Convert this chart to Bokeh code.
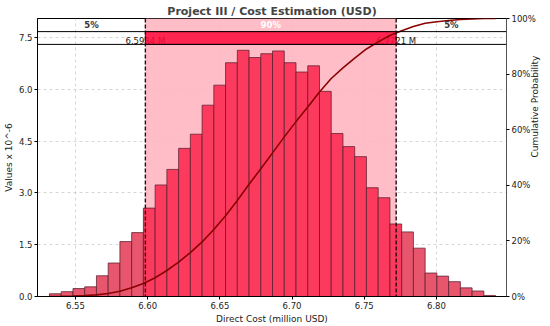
from bokeh.plotting import figure
from bokeh.models import Range1d, LinearAxis, FixedTicker, NumeralTickFormatter, Span, ColumnDataSource
from bokeh.core.properties import value
from bokeh.embed import file_html
from bokeh.resources import INLINE
import numpy as np
import math

# ---- data ----
title = "Project III / Cost Estimation (USD)"
x_label = "Direct Cost (million USD)"
y_label = "Values x 10^-6"
y2_label = "Cumulative Probability"

bin_start = 6.532
bin_width = 0.00813
densities = [0.08, 0.14, 0.23, 0.28, 0.60, 0.97, 1.59, 1.85, 2.56, 3.23,
             3.68, 4.29, 4.70, 5.54, 6.12, 6.77, 7.13, 6.92, 7.03, 7.11,
             6.77, 6.50, 6.68, 5.94, 4.72, 4.34, 4.05, 3.15, 2.86, 2.10,
             1.87, 1.40, 0.68, 0.59, 0.43, 0.25, 0.16, 0.03]
p5 = 6.5984
p95 = 6.7721
p5_label = "6.5984 M"
p95_label = "6.7721 M"
region_labels = ["5%", "90%", "5%"]
x_ticks = [6.55, 6.60, 6.65, 6.70, 6.75, 6.80]
y_ticks = [0.0, 1.5, 3.0, 4.5, 6.0, 7.5]
y2_ticks = [0.0, 0.2, 0.4, 0.6, 0.8, 1.0]

x_min, x_max = 6.5237, 6.8485
y_max = 8.05
band_lo, band_hi = 7.30, 7.67

# ---- derived ----
h = np.array(densities)
lefts = bin_start + bin_width * np.arange(len(h))
rights = lefts + bin_width
centers = (lefts + rights) / 2
inside = (centers >= p5) & (centers <= p95)
colors = ["#fc3a5e" if i else "#e8566e" for i in inside]
edges = np.concatenate([[bin_start], rights])
cdf = np.concatenate([[0.0], np.cumsum(h)])
cdf = cdf / cdf[-1]

FONT = "DejaVu Sans"

p = figure(width=550, height=326, x_range=Range1d(x_min, x_max), y_range=Range1d(0, y_max),
           output_backend="svg", toolbar_location=None, title=title,
           min_border_left=37, min_border_right=44, min_border_top=18, min_border_bottom=29)
p.title.text_font = FONT
p.title.text_font_size = "11px"
p.title.text_font_style = "bold"
p.title.align = "center"
p.title.standoff = 2
p.title.offset = 0

p.outline_line_color = "black"
p.outline_line_width = 1
p.background_fill_color = "white"

p.extra_y_ranges = {"cdf": Range1d(0, 1)}


def style_axis(ax):
    ax.axis_label_text_font = FONT
    ax.axis_label_text_font_size = "9px"
    ax.axis_label_text_font_style = "normal"
    ax.axis_label_text_color = "#222222"
    ax.axis_label_text_line_height = 1.0
    ax.major_label_text_font = FONT
    ax.major_label_text_font_size = "8.5px"
    ax.major_label_text_color = "#222222"
    ax.major_label_text_line_height = 1.0
    ax.minor_tick_line_color = None
    ax.major_tick_in = 0
    ax.major_tick_out = 3
    ax.axis_label_standoff = 2
    ax.major_label_standoff = 2


style_axis(p.xaxis[0])
style_axis(p.yaxis[0])
p.xaxis.ticker = FixedTicker(ticks=x_ticks)
p.xaxis.formatter = NumeralTickFormatter(format="0.00")
p.xaxis.axis_label = x_label
p.yaxis.ticker = FixedTicker(ticks=y_ticks)
p.yaxis.formatter = NumeralTickFormatter(format="0.0")
p.yaxis.axis_label = y_label

ax2 = LinearAxis(y_range_name="cdf", ticker=FixedTicker(ticks=y2_ticks),
                 formatter=NumeralTickFormatter(format="0%"), axis_label=y2_label)
style_axis(ax2)
ax2.axis_label_standoff = -4
ax2.axis_line_color = "#555555"
try:
    ax2.axis_label_orientation = math.pi / 2
except Exception:
    pass
p.add_layout(ax2, "right")

p.xgrid.ticker = FixedTicker(ticks=x_ticks)
p.ygrid.ticker = FixedTicker(ticks=y_ticks)
p.grid.grid_line_color = "#cccccc"
p.grid.grid_line_dash = "3 3"
p.grid.grid_line_alpha = 0.8

# shaded 90% region
p.quad(left=[p5], right=[p95], bottom=[0], top=[y_max], fill_color="#ffb6c1",
       fill_alpha=0.9, line_color=None)

# histogram
src = ColumnDataSource(dict(left=lefts, right=rights, top=h, bottom=np.zeros_like(h), color=colors))
p.quad(left="left", right="right", top="top", bottom="bottom", source=src,
       fill_color="color", fill_alpha=1.0, line_color="#5a1f2c", line_alpha=0.75, line_width=1)

# band lines
for loc in [band_lo, band_hi]:
    p.add_layout(Span(location=loc, dimension="width", line_color="black", line_width=1))

# percentile labels (under the band)
p.text(x=[p5, p95], y=[(band_lo + band_hi) / 2 - 0.08] * 2, text=[p5_label, p95_label],
       text_font=value(FONT), text_font_size=value("8.5px"), text_align="center",
       text_baseline="middle", text_color="#222222")

# red band
p.quad(left=[p5], right=[p95], bottom=[band_lo], top=[band_hi], fill_color="#ff0a3c",
       fill_alpha=0.85, line_color="#8b0a1a", line_width=1)

# cdf
p.line(edges, cdf, y_range_name="cdf", line_color="#8b0000", line_width=1.6)

# dashed lines
for loc in [p5, p95]:
    p.add_layout(Span(location=loc, dimension="height", line_color="#2a0a10",
                      line_width=1.4, line_dash="4 2"))

# region labels
mid_y = (band_hi + y_max) / 2
p.text(x=[(x_min + p5) / 2, (p5 + p95) / 2, (p95 + x_max) / 2], y=[mid_y] * 3,
       text=region_labels, text_font=value(FONT), text_font_size=value("8.5px"),
       text_font_style="bold", text_align="center", text_baseline="middle",
       text_color=["#333333", "white", "#333333"])

open("out.html", "w").write(file_html(p, INLINE))
